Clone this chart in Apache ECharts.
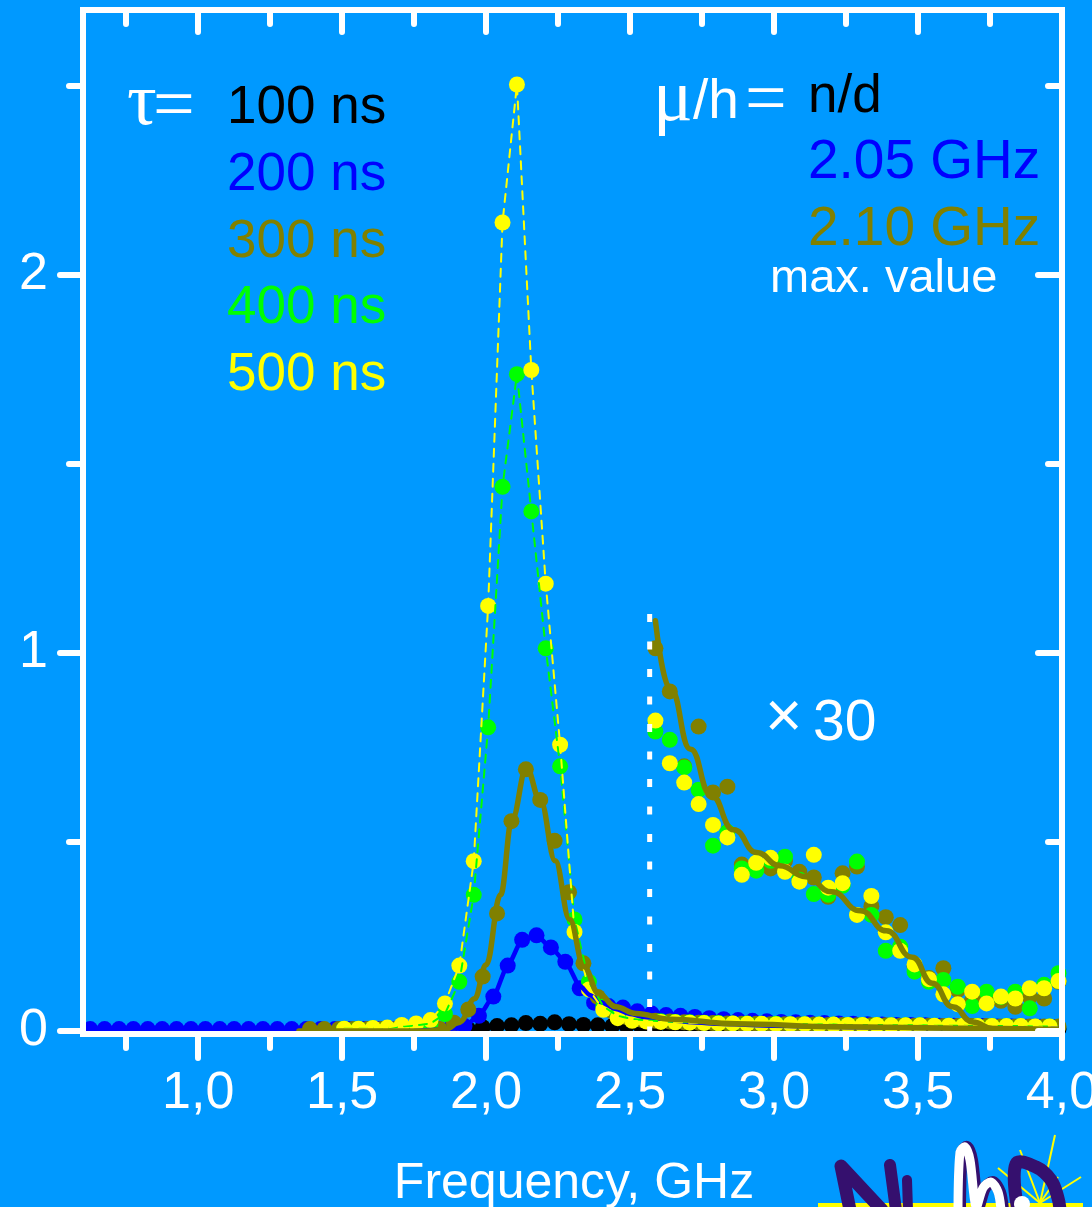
<!DOCTYPE html>
<html><head><meta charset="utf-8">
<script src="https://cdn.jsdelivr.net/npm/echarts@6/dist/echarts.min.js"></script>
<style>html,body{margin:0;padding:0;background:#0099ff;overflow:hidden}#c{width:1092px;height:1207px}</style>
</head><body><div id="c"></div><script>
// ---------- data ----------
var xMajorTicks = [1.0, 1.5, 2.0, 2.5, 3.0, 3.5, 4.0];
var xMinorTicks = [0.75, 1.25, 1.75, 2.25, 2.75, 3.25, 3.75];
var yMajorTicks = [0, 1, 2];
var yMinorTicks = [0.5, 1.5, 2.5];

var tau100 = [[1.938,0.005],[1.988,0.010],[2.038,0.013],[2.088,0.015],[2.138,0.021],[2.188,0.019],[2.238,0.023],[2.288,0.018],[2.338,0.016],[2.388,0.015],[2.438,0.013],[2.488,0.013],[2.538,0.012],[2.588,0.011],[2.638,0.010],[2.688,0.010],[2.738,0.009],[2.788,0.009],[2.838,0.008],[2.888,0.008],[2.938,0.008],[2.988,0.007],[3.038,0.007],[3.088,0.007],[3.138,0.007],[3.188,0.006],[3.238,0.006],[3.288,0.006],[3.338,0.006],[3.388,0.006],[3.438,0.006],[3.488,0.005],[3.538,0.005],[3.588,0.005],[3.638,0.005],[3.688,0.005],[3.738,0.005],[3.788,0.005],[3.838,0.005],[3.888,0.005],[3.938,0.005],[3.988,0.005]];

var tau200 = [[0.625,0.005],[0.675,0.005],[0.725,0.005],[0.775,0.005],[0.825,0.005],[0.875,0.005],[0.925,0.005],[0.975,0.005],[1.025,0.005],[1.075,0.005],[1.125,0.005],[1.175,0.005],[1.225,0.005],[1.275,0.005],[1.325,0.005],[1.375,0.005],[1.425,0.005],[1.475,0.005],[1.525,0.005],[1.575,0.005],[1.625,0.005],[1.675,0.005],[1.725,0.005],[1.775,0.005],[1.825,0.005],[1.875,0.006],[1.925,0.013],[1.975,0.040],[2.025,0.091],[2.075,0.173],[2.125,0.241],[2.175,0.253],[2.225,0.221],[2.275,0.183],[2.325,0.113],[2.375,0.075],[2.425,0.066],[2.475,0.062],[2.525,0.052],[2.575,0.046],[2.625,0.042],[2.675,0.040],[2.725,0.037],[2.775,0.034],[2.825,0.031],[2.875,0.029],[2.925,0.027],[2.975,0.026],[3.025,0.024],[3.075,0.023],[3.125,0.022],[3.175,0.021],[3.225,0.020],[3.275,0.019],[3.325,0.018],[3.375,0.017],[3.425,0.016],[3.475,0.016],[3.525,0.015],[3.575,0.014],[3.625,0.014],[3.675,0.013],[3.725,0.013],[3.775,0.012],[3.825,0.012],[3.875,0.011],[3.925,0.011],[3.975,0.010]];

var tau300 = [[1.388,0.005],[1.438,0.005],[1.488,0.005],[1.538,0.005],[1.588,0.005],[1.638,0.005],[1.688,0.005],[1.738,0.005],[1.788,0.005],[1.838,0.006],[1.888,0.022],[1.938,0.057],[1.988,0.144],[2.038,0.311],[2.088,0.555],[2.138,0.692],[2.188,0.611],[2.238,0.503],[2.288,0.367],[2.338,0.179],[2.388,0.090],[2.438,0.052],[2.488,0.037],[2.538,0.030],[2.588,0.027],[2.638,0.025],[2.688,0.023],[2.738,0.022],[2.788,0.021],[2.838,0.020],[2.888,0.019],[2.938,0.019],[2.988,0.018],[3.038,0.018],[3.088,0.017],[3.138,0.017],[3.188,0.016],[3.238,0.016],[3.288,0.015],[3.338,0.015],[3.388,0.015],[3.438,0.014],[3.488,0.014],[3.538,0.014],[3.588,0.013],[3.638,0.013],[3.688,0.013],[3.738,0.013],[3.788,0.012],[3.838,0.012],[3.888,0.012],[3.938,0.012],[3.988,0.012]];

var tau400 = [[1.507,0.006],[1.557,0.006],[1.607,0.007],[1.657,0.008],[1.707,0.012],[1.757,0.015],[1.807,0.020],[1.857,0.045],[1.907,0.130],[1.957,0.360],[2.007,0.803],[2.057,1.439],[2.107,1.737],[2.157,1.374],[2.207,1.012],[2.257,0.700],[2.307,0.295],[2.357,0.130],[2.407,0.065],[2.457,0.040],[2.507,0.032],[2.557,0.028],[2.607,0.026],[2.657,0.024],[2.707,0.023],[2.757,0.022],[2.807,0.021],[2.857,0.020],[2.907,0.020],[2.957,0.019],[3.007,0.019],[3.057,0.018],[3.107,0.018],[3.157,0.017],[3.207,0.017],[3.257,0.016],[3.307,0.016],[3.357,0.016],[3.407,0.015],[3.457,0.015],[3.507,0.015],[3.557,0.014],[3.607,0.014],[3.657,0.014],[3.707,0.013],[3.757,0.013],[3.807,0.013],[3.857,0.013],[3.907,0.012],[3.957,0.012]];

var tau500 = [[1.507,0.006],[1.557,0.006],[1.607,0.008],[1.657,0.009],[1.707,0.016],[1.757,0.020],[1.807,0.029],[1.857,0.073],[1.907,0.173],[1.957,0.449],[2.007,1.124],[2.057,2.138],[2.107,2.503],[2.157,1.748],[2.207,1.183],[2.257,0.757],[2.307,0.262],[2.357,0.110],[2.407,0.056],[2.457,0.034],[2.507,0.027],[2.557,0.025],[2.607,0.024],[2.657,0.023],[2.707,0.022],[2.757,0.021],[2.807,0.020],[2.857,0.020],[2.907,0.019],[2.957,0.019],[3.007,0.018],[3.057,0.018],[3.107,0.018],[3.157,0.017],[3.207,0.017],[3.257,0.016],[3.307,0.016],[3.357,0.016],[3.407,0.015],[3.457,0.015],[3.507,0.015],[3.557,0.014],[3.607,0.014],[3.657,0.014],[3.707,0.013],[3.757,0.013],[3.807,0.013],[3.857,0.013],[3.907,0.012],[3.957,0.012]];

// "x 30" magnified region (values as drawn, already multiplied by 30)
var tau300x30 = [[2.588,1.012],[2.638,0.898],[2.688,0.700],[2.738,0.805],[2.788,0.631],[2.838,0.646],[2.888,0.440],[2.938,0.430],[2.988,0.430],[3.038,0.450],[3.088,0.421],[3.138,0.406],[3.188,0.355],[3.238,0.417],[3.288,0.435],[3.338,0.330],[3.388,0.301],[3.438,0.280],[3.488,0.170],[3.538,0.140],[3.588,0.166],[3.638,0.108],[3.688,0.080],[3.738,0.090],[3.788,0.080],[3.838,0.064],[3.888,0.090],[3.938,0.086],[3.988,0.130]];
var tau400x30 = [[2.588,0.792],[2.638,0.770],[2.688,0.697],[2.738,0.638],[2.788,0.490],[2.838,0.526],[2.888,0.430],[2.938,0.424],[2.988,0.450],[3.038,0.461],[3.088,0.400],[3.138,0.362],[3.188,0.360],[3.238,0.384],[3.288,0.448],[3.338,0.307],[3.388,0.212],[3.438,0.223],[3.488,0.157],[3.538,0.130],[3.588,0.135],[3.638,0.117],[3.688,0.066],[3.738,0.104],[3.788,0.090],[3.838,0.104],[3.888,0.060],[3.938,0.122],[3.988,0.153]];
var tau500x30 = [[2.588,0.821],[2.638,0.708],[2.688,0.657],[2.738,0.600],[2.788,0.545],[2.838,0.512],[2.888,0.413],[2.938,0.445],[2.988,0.458],[3.038,0.421],[3.088,0.395],[3.138,0.466],[3.188,0.379],[3.238,0.391],[3.288,0.307],[3.338,0.357],[3.388,0.261],[3.438,0.212],[3.488,0.176],[3.538,0.137],[3.588,0.097],[3.638,0.071],[3.688,0.104],[3.738,0.073],[3.788,0.091],[3.838,0.086],[3.888,0.113],[3.938,0.113],[3.988,0.132]];

// fitted curves
var fit205 = [[1.75,0.0],[1.85,0.004],[1.90,0.008],[1.925,0.013],[1.975,0.040],[2.025,0.091],[2.075,0.173],[2.125,0.241],[2.175,0.253],[2.225,0.221],[2.275,0.183],[2.325,0.120],[2.36,0.095],[2.40,0.076],[2.45,0.058],[2.50,0.045],[2.55,0.037],[2.60,0.031],[2.70,0.024],[2.80,0.019],[3.00,0.014],[3.30,0.010],[3.60,0.007],[4.00,0.005]];
var fit210 = [[1.35,0.0],[1.80,0.0],[1.86,0.005],[1.91,0.025],[1.96,0.085],[2.00,0.175],[2.05,0.360],[2.09,0.560],[2.14,0.695],[2.19,0.605],[2.24,0.450],[2.29,0.295],[2.34,0.170],[2.39,0.100],[2.45,0.064],[2.52,0.046],[2.64,0.031],[2.87,0.019],[3.22,0.011],[3.69,0.007],[4.00,0.004]];
var fit210x30 = [[2.588,1.085],[2.64,0.905],[2.71,0.745],[2.78,0.625],[2.86,0.532],[2.94,0.472],[3.02,0.437],[3.11,0.408],[3.20,0.368],[3.30,0.318],[3.39,0.265],[3.48,0.195],[3.55,0.126],[3.62,0.064],[3.69,0.024],[3.76,0.006],[3.85,0.001],[4.00,0.0]];

var dividerLine = [[2.568,1.103],[2.568,0]];

// ---------- chart ----------
var SANS = "'Liberation Sans', Arial, sans-serif";
var SERIF = "'Liberation Serif', 'Times New Roman', serif";
var WHITE = '#ffffff';

function axis(dim, pos, ticks, len, inside, showLine, labelOpt, offset) {
  var a = {
    type: 'value', position: pos, z: 10, offset: offset || 0,
    min: dim === 'x' ? 0.6 : 0, max: dim === 'x' ? 4.0 : 2.7,
    axisLine: { show: showLine, onZero: false, lineStyle: { color: WHITE, width: 6, cap: 'square' } },
    axisTick: { show: true, inside: inside, length: len, customValues: ticks, lineStyle: { color: WHITE, width: 6, cap: 'round' } },
    axisLabel: { show: false },
    splitLine: { show: false }, minorTick: { show: false }, minorSplitLine: { show: false }
  };
  if (labelOpt) {
    a.axisLabel = Object.assign({ show: true, customValues: ticks, color: WHITE, fontSize: 52, fontFamily: SANS }, labelOpt);
  }
  return a;
}

function dots(data, color) {
  return { type: 'scatter', data: data, symbol: 'circle', symbolSize: 16, clip: false, silent: true,
    itemStyle: { color: color, opacity: 1, borderWidth: 0 }, animation: false };
}
function curve(data, color, width, type, smooth) {
  return { type: 'line', data: data, symbol: 'none', showSymbol: false, clip: false, silent: true,
    smooth: smooth || false, smoothMonotone: 'x',
    lineStyle: { color: color, width: width, type: type || 'solid', cap: 'round', join: 'round' }, animation: false };
}

function txt(text, x, base, size, color, family, align) {
  return { type: 'text', x: x, y: base - 0.29 * size, z: 100, silent: true,
    style: { text: text, fill: color, font: size + 'px ' + family,
      align: align || 'left', textAlign: align || 'left', verticalAlign: 'middle', textVerticalAlign: 'middle' } };
}

var PURPLE = '#35106e';
var graphics = [
  txt('τ', 127, 126, 74, WHITE, SERIF),
  txt('=', 153, 130, 74, WHITE, SERIF),
  txt('100 ns', 227, 124, 53, '#000000', SANS),
  txt('200 ns', 227, 191, 53, '#0000ff', SANS),
  txt('300 ns', 227, 258, 53, '#808000', SANS),
  txt('400 ns', 227, 324, 53, '#00ff00', SANS),
  txt('500 ns', 227, 391, 53, '#ffff00', SANS),
  txt('μ', 653, 122, 74, WHITE, SERIF),
  txt('/h', 693, 119, 55, WHITE, SANS),
  txt('=', 745, 124, 74, WHITE, SERIF),
  txt('n/d', 808, 113, 53, '#000000', SANS),
  txt('2.05 GHz', 808, 179, 55, '#0000ff', SANS),
  txt('2.10 GHz', 808, 246, 55, '#808000', SANS),
  txt('max. value', 770, 293, 47, WHITE, SANS),
  txt('×', 765, 738, 64, WHITE, SANS),
  txt('30', 813, 741, 57, WHITE, SANS),
  txt('Frequency, GHz', 574, 1199, 50, WHITE, SANS, 'center'),
  // logo fragment at bottom right
  { type: 'rect', shape: { x: 818, y: 1203, width: 265, height: 4 }, style: { fill: '#ffff00' }, z: 100 },
  { type: 'polyline', shape: { points: [[1040,1203],[1020,1150]] }, style: { stroke: '#ffff00', lineWidth: 2 }, z: 100 },
  { type: 'polyline', shape: { points: [[1040,1203],[1055,1135]] }, style: { stroke: '#ffff00', lineWidth: 2 }, z: 100 },
  { type: 'polyline', shape: { points: [[1040,1203],[998,1168]] }, style: { stroke: '#ffff00', lineWidth: 2 }, z: 100 },
  { type: 'polyline', shape: { points: [[1040,1203],[1081,1177]] }, style: { stroke: '#ffff00', lineWidth: 2 }, z: 100 },
  { type: 'polyline', shape: { points: [[1040,1203],[1058,1177]] }, style: { stroke: '#ffff00', lineWidth: 2 }, z: 100 },
  { type: 'polyline', shape: { points: [[850,1210],[841,1166],[882,1210]] }, style: { stroke: PURPLE, lineWidth: 13, fill: null, lineJoin: 'round', lineCap: 'round' }, z: 101 },
  { type: 'polyline', shape: { points: [[890,1165],[896,1210]] }, style: { stroke: PURPLE, lineWidth: 12, lineCap: 'round' }, z: 101 },
  { type: 'polyline', shape: { points: [[907,1180],[908,1210]] }, style: { stroke: PURPLE, lineWidth: 10, lineCap: 'round' }, z: 101 },
  { type: 'polyline', shape: { points: [[960,1210],[962,1152],[967,1147],[972,1160],[978,1207],[985,1188],[993,1182],[1000,1192],[1003,1210]], smooth: 0.3 }, style: { stroke: PURPLE, lineWidth: 12, fill: null, lineJoin: 'round' }, z: 101 },
  { type: 'polyline', shape: { points: [[958,1210],[960,1152],[965,1147],[970,1160],[976,1207],[983,1188],[991,1182],[998,1192],[1001,1210]], smooth: 0.3 }, style: { stroke: WHITE, lineWidth: 9, fill: null, lineJoin: 'round' }, z: 102 },
  { type: 'polyline', shape: { points: [[1018,1210],[1016,1164],[1036,1167],[1051,1180],[1058,1198],[1060,1210]], smooth: 0.4 }, style: { stroke: PURPLE, lineWidth: 13, fill: null, lineJoin: 'round', lineCap: 'round' }, z: 101 },
  { type: 'circle', shape: { cx: 1022, cy: 1204, r: 8 }, style: { fill: WHITE }, z: 103 }
];

var option = {
  backgroundColor: '#0099ff',
  animation: false,
  grid: { left: 83, right: 30, top: 10, bottom: 176, containLabel: false, outerBoundsMode: 'none', show: false },
  xAxis: [
    axis('x', 'bottom', xMajorTicks, 24, false, true, { margin: 34, formatter: function (v) { return v.toFixed(1).replace('.', ','); } }, 3),
    axis('x', 'bottom', xMinorTicks, 14, false, false, null, 3),
    axis('x', 'top', xMajorTicks, 22, true, true),
    axis('x', 'top', xMinorTicks, 14, true, false)
  ],
  yAxis: [
    axis('y', 'left', yMajorTicks, 23, false, true, { margin: 35 }),
    axis('y', 'left', yMinorTicks, 14, false, false),
    axis('y', 'right', yMajorTicks, 24, true, true),
    axis('y', 'right', yMinorTicks, 14, true, false)
  ],
  series: [
    { type: 'line', data: dividerLine, symbol: 'none', clip: false, silent: true, animation: false,
      lineStyle: { color: WHITE, width: 5, type: [8, 19.5], cap: 'butt' } },
    dots(tau100, '#000000'),
    dots(tau200, '#0000ff'),
    curve(fit205, '#0000ff', 4.5, 'solid', 0.2),
    curve(tau400, '#00ff00', 2, [8, 7]),
    curve(tau500, '#ffff00', 2, [8, 7]),
    curve(fit210, '#808000', 5.5, 'solid', 0.4),
    curve(fit210x30, '#808000', 5.5, 'solid', 0.5),
    dots(tau300, '#808000'),
    dots(tau300x30, '#808000'),
    dots(tau400, '#00ff00'),
    dots(tau400x30, '#00ff00'),
    dots(tau500, '#ffff00'),
    dots(tau500x30, '#ffff00')
  ],
  graphic: graphics
};

var chart = echarts.init(document.getElementById('c'), null, { renderer: 'canvas' });
chart.setOption(option);
</script></body></html>
